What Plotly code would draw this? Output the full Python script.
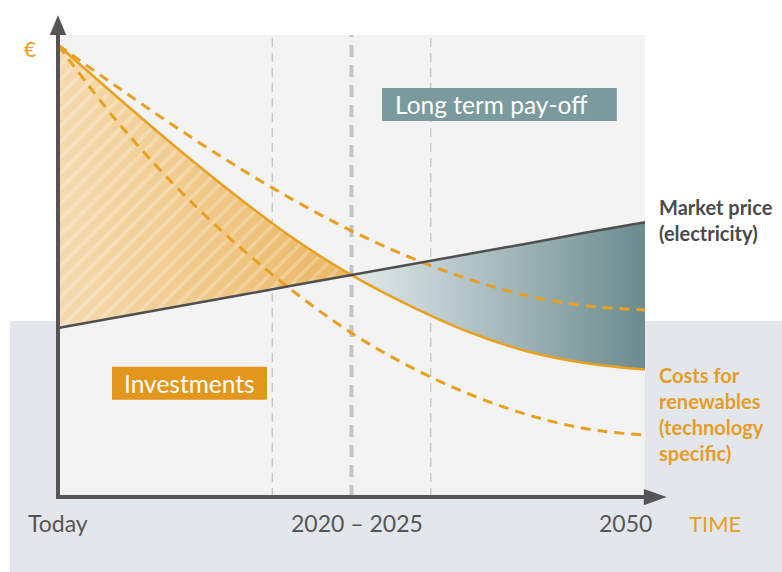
import plotly.graph_objects as go

# Time steps: 0 = Today, 5 = 2020–2025, 10 = 2050
t = [0, 1, 2, 3, 4, 5, 6, 7, 8, 9, 10]

# Market price of electricity (rising)
market_price = [37.4, 39.7, 42.1, 44.4, 46.8, 49.1, 51.4, 53.8, 56.1, 58.5, 60.8]

# Costs for renewables: central path and technology-specific range
cost_central = [100, 88.6, 77.5, 67.0, 57.3, 49.1, 42.3, 36.5, 32.2, 29.6, 28.2]
cost_high = [100, 90.8, 81.9, 73.5, 65.8, 58.9, 53.0, 48.2, 44.5, 42.3, 41.4]
cost_low = [100, 83.2, 68.8, 56.4, 45.6, 36.3, 28.8, 22.8, 18.2, 15.1, 13.7]

# Milestone guides and axis labels
milestones = [3.65, 5.0, 6.35]
milestone_widths = [1.3, 4, 1.3]
tick_pos = [0, 5, 10]
tick_text = ["Today", "2020 – 2025", "2050"]
tick_shift = [0, 6, -19]

ORANGE = "#e8a020"
DARK = "#555555"
TEAL = "#7a9a9d"
FONT = "Lato"

X_RANGE = [-0.988, 12.334]
Y_RANGE = [-16.59, 109.96]
PANEL_TOP = 102.2
cross = t.index(5)

fig = go.Figure()

# Investment area (before break-even): gradient base + white stripes
fig.add_trace(go.Scatter(x=t[:cross + 1], y=market_price[:cross + 1], mode="lines",
                         line=dict(width=0, shape="spline"), hoverinfo="skip"))
fig.add_trace(go.Scatter(x=t[:cross + 1], y=cost_central[:cross + 1], mode="lines",
                         line=dict(width=0, shape="spline"), fill="tonexty",
                         fillgradient=dict(type="horizontal",
                                           colorscale=[[0, "#f5dbb0"], [1, "#eab662"]]),
                         hoverinfo="skip"))
fig.add_trace(go.Scatter(x=t[:cross + 1], y=market_price[:cross + 1], mode="lines",
                         line=dict(width=0, shape="spline"), hoverinfo="skip"))
fig.add_trace(go.Scatter(x=t[:cross + 1], y=cost_central[:cross + 1], mode="lines",
                         line=dict(width=0, shape="spline"), fill="tonexty",
                         fillcolor="rgba(0,0,0,0)",
                         fillpattern=dict(shape="/", fgcolor="rgba(255,255,255,0.5)",
                                          bgcolor="rgba(0,0,0,0)", size=11, solidity=0.3),
                         hoverinfo="skip"))

# Long-term pay-off area (after break-even)
fig.add_trace(go.Scatter(x=t[cross:], y=market_price[cross:], mode="lines",
                         line=dict(width=0, shape="spline"), hoverinfo="skip"))
fig.add_trace(go.Scatter(x=t[cross:], y=cost_central[cross:], mode="lines",
                         line=dict(width=0, shape="spline"), fill="tonexty",
                         fillgradient=dict(type="horizontal",
                                           colorscale=[[0, "#e2eaeb"], [1, "#6b8b8f"]]),
                         hoverinfo="skip"))

# Cost range (dashed) and central cost path
for ys in (cost_high, cost_low):
    fig.add_trace(go.Scatter(x=t, y=ys, mode="lines",
                             line=dict(color=ORANGE, width=3, dash="10px,7px", shape="spline"),
                             hoverinfo="skip"))
fig.add_trace(go.Scatter(x=t, y=cost_central, mode="lines",
                         line=dict(color=ORANGE, width=2.5, shape="spline"), hoverinfo="skip"))

# Market price line
fig.add_trace(go.Scatter(x=t, y=market_price, mode="lines",
                         line=dict(color="#4f4f4f", width=2.5), hoverinfo="skip"))

shapes = [
    # lower band behind the chart
    dict(type="rect", xref="paper", yref="paper", x0=0.0128, x1=1, y0=0, y1=0.4388,
         fillcolor="#e3e7eb", line=dict(width=0), layer="below"),
    # chart panel
    dict(type="rect", x0=0, x1=10, y0=0, y1=PANEL_TOP,
         fillcolor="#f3f3f3", line=dict(width=0), layer="below"),
]
for m, w in zip(milestones, milestone_widths):
    shapes.append(dict(type="line", x0=m, x1=m, y0=0, y1=PANEL_TOP, layer="below",
                       line=dict(color="#c4c4c4", width=w,
                                 dash="12px,8px" if w > 2 else "9px,6px")))
# axes with arrowheads
shapes += [
    dict(type="line", x0=0, x1=0, y0=-0.45, y1=PANEL_TOP, line=dict(color=DARK, width=4)),
    dict(type="line", x0=-0.034, x1=10, y0=0, y1=0, line=dict(color=DARK, width=4)),
    dict(type="path", path="M -0.14 102.2 L 0.14 102.2 L 0 106.6 Z",
         fillcolor=DARK, line=dict(width=0)),
    dict(type="path", path="M 9.98 1.8 L 9.98 -1.8 L 10.37 0 Z",
         fillcolor=DARK, line=dict(width=0)),
    # label boxes
    dict(type="rect", x0=5.52, x1=9.52, y0=83.2, y1=90.5, fillcolor=TEAL, line=dict(width=0)),
    dict(type="rect", x0=0.92, x1=3.56, y0=21.5, y1=28.8, fillcolor="#e2961c", line=dict(width=0)),
]

annotations = [
    dict(x=-0.48, y=99.3, text="€", showarrow=False,
         font=dict(family=FONT, size=21, color=ORANGE)),
    dict(x=5.71, y=86.8, text="Long term pay-off", showarrow=False, xanchor="left",
         font=dict(family=FONT, size=24.5, color="white")),
    dict(x=2.24, y=25.1, text="Investments", showarrow=False,
         font=dict(family=FONT, size=24.5, color="white")),
    dict(x=11.19, y=-5.75, text="TIME", showarrow=False,
         font=dict(family=FONT, size=22, color=ORANGE)),
    dict(x=10.2, y=61.3, text="<b>Market price</b><br><b>(electricity)</b>", showarrow=False,
         xanchor="left", align="left",
         font=dict(family=FONT, size=20, color="#4a4a4a")),
    dict(x=10.2, y=18.4,
         text="<b>Costs for</b><br><b>renewables</b><br><b>(technology</b><br><b>specific)</b>",
         showarrow=False, xanchor="left", align="left",
         font=dict(family=FONT, size=20, color="#e39e2a")),
]
for pos, txt, sh in zip(tick_pos, tick_text, tick_shift):
    annotations.append(dict(x=pos, y=-5.75, text=txt, showarrow=False, xshift=sh,
                            font=dict(family=FONT, size=23, color="#555555")))

fig.update_layout(
    width=782, height=572,
    margin=dict(l=0, r=0, t=0, b=0),
    paper_bgcolor="white", plot_bgcolor="rgba(0,0,0,0)",
    showlegend=False,
    xaxis=dict(range=X_RANGE, visible=False, fixedrange=True),
    yaxis=dict(range=Y_RANGE, visible=False, fixedrange=True),
    shapes=shapes, annotations=annotations,
)

fig.write_html("out.html")
